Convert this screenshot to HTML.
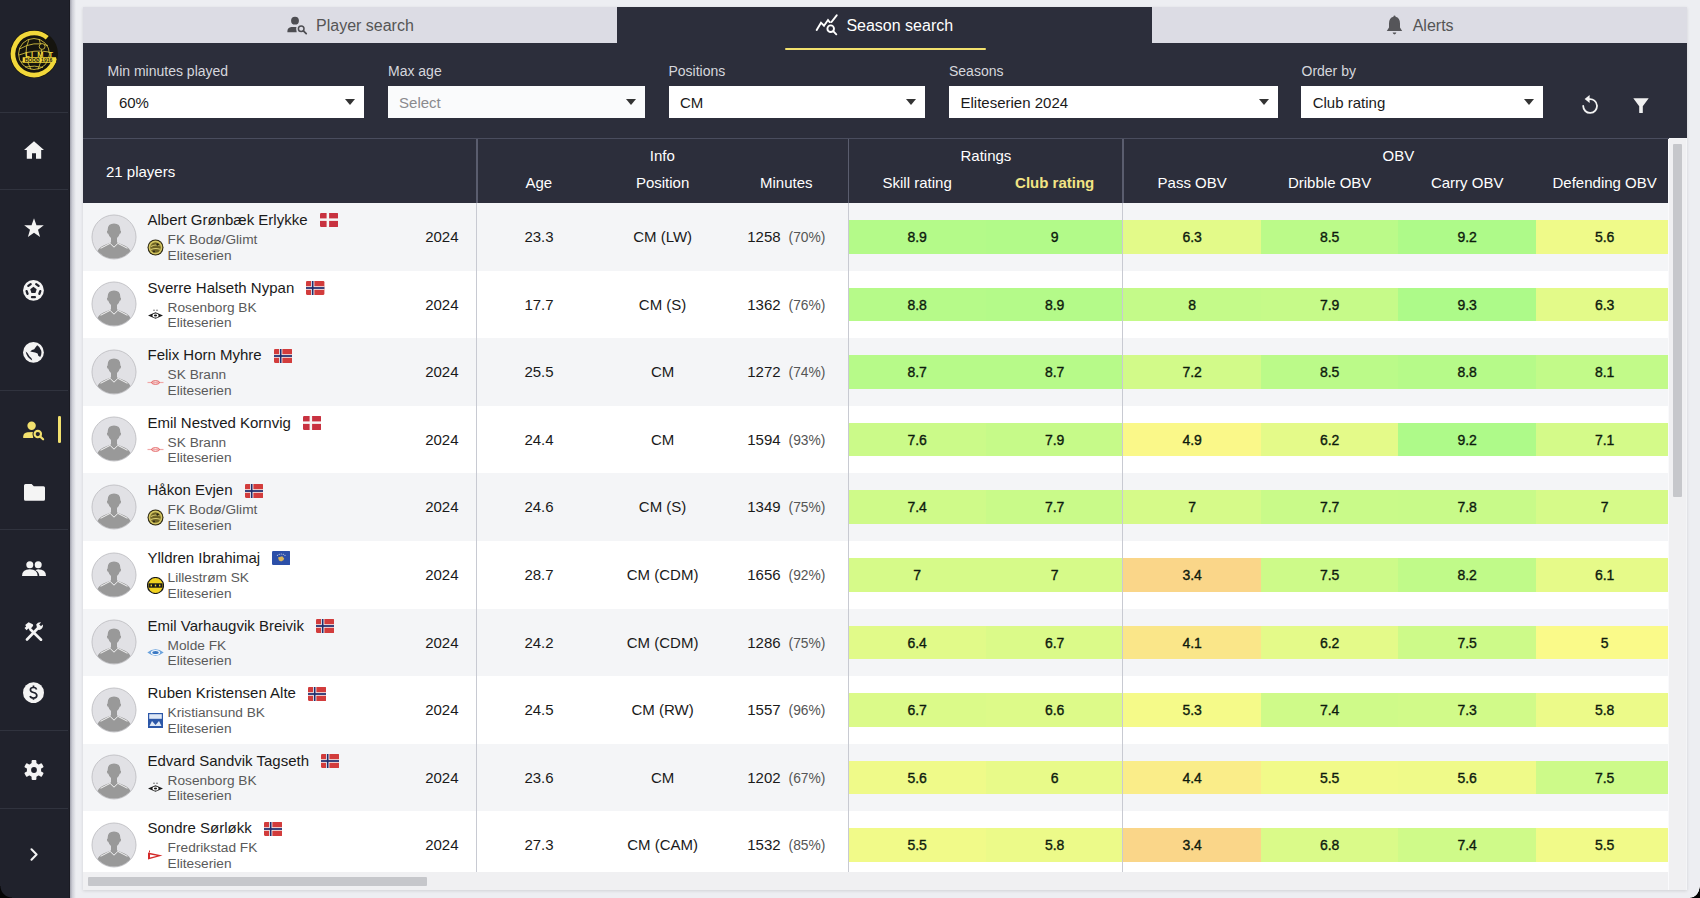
<!DOCTYPE html>
<html><head><meta charset="utf-8">
<style>
*{box-sizing:border-box;margin:0;padding:0}
html,body{width:1700px;height:898px;overflow:hidden}
body{background:#edeef2;font-family:"Liberation Sans",Arial,sans-serif;position:relative;color:#1a1a1a}
.abs{position:absolute}
#sb{left:0;top:0;width:70px;height:898px;background:#20222c;border-right:1.5px solid #1a1b23}
#sbshadow{left:69.5px;top:0;width:6px;height:898px;background:linear-gradient(90deg,#a2a3ae,#cfd0d8 40%,#edeef2)}
.sbl{position:absolute;left:0;width:68px;height:1.2px;background:#30333e}
.ic{position:absolute}
#panel{left:83px;top:7px;width:1603.5px;height:882.5px;background:#f4f5f7;box-shadow:0 1px 3px rgba(0,0,0,0.12)}
.tab{position:absolute;top:7px;height:36px;background:#dcdce4;color:#555;font-size:16px;line-height:36px;white-space:nowrap}
.tab.act{background:#2c2e3b;color:#fff}
.tab span{position:absolute;top:1px}
.tab svg{position:absolute}
#fbar{left:83px;top:43px;width:1604px;height:95px;background:#2c2e3b}
.flab{position:absolute;top:63px;font-size:14px;color:#d6d7dd;line-height:16px;white-space:nowrap}
.sel{position:absolute;top:86.4px;height:31.6px;background:#fff;font-size:15px;line-height:33px;padding-left:11.5px;color:#1a1a1a;white-space:nowrap}
.sel .ar{position:absolute;right:9px;top:13px;width:0;height:0;border-left:5px solid transparent;border-right:5px solid transparent;border-top:6px solid #333}
#thead{left:83px;top:138px;width:1586px;height:65px;background:#2c2e3b;border-top:1px solid #4a4d5e}
.th{position:absolute;color:#fff;font-size:15px;white-space:nowrap;text-align:center;line-height:18px}
.hvl{position:absolute;top:0;width:1.5px;height:64px;background:#5a5d6e}
#tbody{left:83px;top:203px;width:1585.4px;height:669px;overflow:hidden;background:#fff}
.row{position:absolute;left:0;width:1585.4px;height:67.6px}
.av{position:absolute;left:7.8px;top:10.6px}
.nm{position:absolute;left:64.5px;top:8px;font-size:15px;line-height:18px;white-space:nowrap;color:#1a1a1a}
.flag{display:inline-block;vertical-align:top;margin-left:12px;margin-top:2.4px}
.lg{position:absolute;left:63.7px;top:35.5px;width:17px;height:17px}
.lg svg{display:block}
.cl{position:absolute;left:84.6px;top:29px;font-size:13.7px;line-height:15.6px;color:#5a5a5a;white-space:nowrap}
.yr{position:absolute;left:300px;width:75.5px;top:0;height:67.6px;line-height:67.6px;text-align:right;font-size:15px}
.c{position:absolute;top:0;height:67.6px;line-height:67.6px;text-align:center;font-size:15px;white-space:nowrap}
.pc{font-size:13.8px;color:#555;margin-left:8px}
.v{position:absolute;top:17px;height:33.5px;width:137.5px;line-height:35px;text-align:center;font-size:14px;color:#0d1a0d;-webkit-text-stroke:0.35px #0d1a0d}
.bvl{position:absolute;top:203px;width:1.3px;height:669px;background:#c8cad2}
#hs{left:83px;top:871.6px;width:1585.4px;height:18px;background:#f0f0f2}
#hst{left:88px;top:876.7px;width:338.5px;height:8.9px;background:#c6c7cb;border-radius:1px}
#vs{left:1668px;top:138.5px;width:18px;height:751px;background:#f0f0f2;border-left:1.5px solid #fafafc}
#vst{left:1673px;top:143.6px;width:9px;height:353.2px;background:#c6c7cb;border-radius:1px}
</style></head><body>
<div id="sb" class="abs"></div>
<div id="sbshadow" class="abs"></div>
<div class="sbl" style="top:112px"></div>
<div class="sbl" style="top:189px"></div>
<div class="sbl" style="top:390px"></div>
<div class="sbl" style="top:529px"></div>
<div class="sbl" style="top:730px"></div>
<div class="sbl" style="top:808px"></div>
<svg class="ic" style="left:10px;top:30.3px" width="48" height="48" viewBox="0 0 48 48">
<circle cx="24" cy="24" r="24" fill="#15140e"/>
<path d="M37.22 7.68 A21 21 0 1 0 44.54 28.37" fill="none" stroke="#f2d83a" stroke-width="4.6"/>
<g fill="none" stroke="#e6cf45" stroke-width="0.8"><circle cx="24" cy="24" r="15.5"/><path d="M9.5 19 Q24 10.5 38 15.5"/><path d="M9 25 Q24 19 39 22"/><path d="M11 32 Q24 28.5 37 30.5"/><path d="M15 37 Q25 35 33 37.5"/><path d="M19 9.5 Q12 24 21 39.5"/><path d="M29 9 Q35 24 28 39.5"/></g>
<circle cx="32.1" cy="16.5" r="2.9" fill="#15140e" stroke="#e6cf45" stroke-width="0.8"/>
<g font-family="Liberation Sans,sans-serif" font-weight="bold" font-size="7.4" fill="#f2d83a"><text x="15.2" y="26.6">L</text><text x="21" y="26.6">I</text><text x="27.2" y="26.6">M</text><text x="38.6" y="26.6">T</text></g>
<rect x="12.7" y="27.2" width="33.4" height="5.6" fill="#f2d83a"/>
<text x="28.5" y="31.9" font-size="5" font-family="Liberation Sans,sans-serif" fill="#15140e" text-anchor="middle" font-weight="bold">BODØ 1916</text>
</svg>
<svg class="ic" style="left:23.6px;top:141.4px" width="20" height="18" viewBox="0 0 20 18"><path d="M10 0.3 L0 9 L2.8 9 L2.8 17.8 L8 17.8 L8 12.3 L12 12.3 L12 17.8 L17.2 17.8 L17.2 9 L20 9 Z" fill="#f4f4f4"/></svg>
<svg class="ic" style="left:23.6px;top:218.3px" width="20" height="19.5" viewBox="0 0 20 19"><path d="M10 0 L12.45 6.9 L19.8 7.1 L14 11.6 L16.1 18.8 L10 14.6 L3.9 18.8 L6 11.6 L0.2 7.1 L7.55 6.9 Z" fill="#f4f4f4"/></svg>
<svg class="ic" style="left:23.3px;top:279.9px" width="21" height="21" viewBox="0 0 21 21"><circle cx="10.45" cy="10.45" r="10.4" fill="#f4f4f4"/><g fill="#20222c"><polygon points="10.45,6.80 13.68,9.15 12.45,12.95 8.45,12.95 7.22,9.15"/><rect x="7.85" y="16.00" width="5.2" height="2.3" rx="1.1" transform="rotate(180 10.45 17.15)"/><rect x="1.48" y="11.37" width="5.2" height="2.3" rx="1.1" transform="rotate(252 4.08 12.52)"/><rect x="3.91" y="3.88" width="5.2" height="2.3" rx="1.1" transform="rotate(324 6.51 5.03)"/><rect x="11.79" y="3.88" width="5.2" height="2.3" rx="1.1" transform="rotate(396 14.39 5.03)"/><rect x="14.22" y="11.37" width="5.2" height="2.3" rx="1.1" transform="rotate(468 16.82 12.52)"/></g></svg>
<svg class="ic" style="left:23.3px;top:342.3px" width="21" height="21" viewBox="0 0 21 21"><circle cx="10.45" cy="10.45" r="10.4" fill="#f4f4f4"/><path d="M14.2 3.3 A8.3 8.3 0 0 1 17.2 14.9 L15.3 13.8 L14.6 11.6 L12.1 10.4 L9.6 10.1 L7.2 9.4 L9 7.9 L11.2 7.3 L12.4 5.4 Z" fill="#20222c"/><path d="M2.7 9.6 Q3.5 15.3 9.2 18.4 L8.5 16.2 L6.6 14.5 L4.4 10.9 Z" fill="#20222c"/></svg>
<svg class="ic" style="left:22px;top:421px" width="23" height="20" viewBox="0 0 23 20"><circle cx="9.6" cy="4.7" r="4.2" fill="#f2e16e"/><path d="M1.2 17 L1.2 15.6 Q1.5 11.7 5.5 11.3 L11.2 11.1 L11.2 17 Z" fill="#f2e16e"/><circle cx="15.8" cy="13.1" r="5.3" fill="#20222c"/><circle cx="15.8" cy="13.1" r="3.2" fill="none" stroke="#f2e16e" stroke-width="2.1"/><path d="M18.3 15.6 L21.1 18.3" stroke="#f2e16e" stroke-width="2.2" stroke-linecap="round"/></svg>
<div class="abs" style="left:58.3px;top:416px;width:2.7px;height:27.4px;background:#f2e16e;border-radius:1.3px"></div>
<svg class="ic" style="left:23.5px;top:483.5px" width="21" height="17" viewBox="0 0 21 17"><path d="M1.5 0 L7.6 0 L9.8 2.3 L19.5 2.3 Q21 2.3 21 3.8 L21 15.3 Q21 16.8 19.5 16.8 L1.5 16.8 Q0 16.8 0 15.3 L0 1.5 Q0 0 1.5 0 Z" fill="#f4f4f4"/></svg>
<svg class="ic" style="left:22px;top:561px" width="24" height="15" viewBox="0 0 24 15"><circle cx="7.8" cy="3.7" r="3.5" fill="#f4f4f4"/><circle cx="16.2" cy="3.7" r="3.5" fill="#f4f4f4"/><path d="M0 15 Q0 8.3 7.8 8.3 Q15.6 8.3 15.6 15 Z" fill="#f4f4f4"/><path d="M13.5 9.2 Q15 8.3 16.2 8.3 Q24 8.3 24 15 L17.3 15 Q17.3 11.2 13.5 9.2 Z" fill="#f4f4f4"/></svg>
<svg class="ic" style="left:23.8px;top:622px" width="20" height="19" viewBox="0 0 20 19"><path d="M3 17.5 L15.5 4.5" stroke="#f4f4f4" stroke-width="2.6" stroke-linecap="round"/><path d="M12.2 2.5 Q14 0 17 0.4 L15.2 2.6 L16.6 4.4 L18.8 2.6 Q19.6 5.8 16.6 7.6 Q15 8.3 13.5 7.5 Z" fill="#f4f4f4"/><path d="M6.5 7.5 L17 17.8" stroke="#f4f4f4" stroke-width="2.6" stroke-linecap="round"/><path d="M1.2 3 L4.5 0.2 L8.8 2.2 L9.2 3.8 L6 7.5 L4.3 6.6 L2.6 8.2 L0.5 6.1 L2.2 4.4 Z" fill="#f4f4f4"/></svg>
<svg class="ic" style="left:23.3px;top:682.1px" width="21" height="21.4" viewBox="0 0 21 21"><circle cx="10.5" cy="10.5" r="10.5" fill="#f4f4f4"/><path d="M13.6 7.2 Q13 5.3 10.5 5.3 Q7.4 5.3 7.4 7.6 Q7.4 9.6 10.5 10.3 Q13.8 11 13.8 13.3 Q13.8 15.8 10.5 15.8 Q7.7 15.8 7.1 13.7" fill="none" stroke="#1f212d" stroke-width="1.7"/><path d="M10.5 3.4 V5.4 M10.5 15.7 V17.6" stroke="#1f212d" stroke-width="1.7"/></svg>
<svg class="ic" style="left:23.6px;top:760px" width="20" height="20" viewBox="0 0 20 20"><g fill="#f4f4f4" transform="translate(10 10)"><circle r="7.2"/><rect x="-2.4" y="-10" width="4.8" height="5" rx="1"/><rect x="-2.4" y="-10" width="4.8" height="5" rx="1" transform="rotate(60)"/><rect x="-2.4" y="-10" width="4.8" height="5" rx="1" transform="rotate(120)"/><rect x="-2.4" y="-10" width="4.8" height="5" rx="1" transform="rotate(180)"/><rect x="-2.4" y="-10" width="4.8" height="5" rx="1" transform="rotate(240)"/><rect x="-2.4" y="-10" width="4.8" height="5" rx="1" transform="rotate(300)"/></g><circle cx="10" cy="10" r="2.9" fill="#20222c"/></svg>
<svg class="ic" style="left:29.5px;top:848.4px" width="9" height="13" viewBox="0 0 9 13"><path d="M1.5 1.3 L6.6 6.5 L1.5 11.7" fill="none" stroke="#f4f4f4" stroke-width="2" stroke-linecap="round" stroke-linejoin="round"/></svg>

<div id="panel" class="abs"></div>
<div class="tab" style="left:83px;width:534px"><svg style="left:203px;top:8px" width="22" height="20" viewBox="0 0 22 20"><circle cx="9" cy="5.7" r="3.9" fill="#4d4d52"/><path d="M1.4 17.2 L1.4 16 Q1.7 12.5 5.3 12.1 L10.6 11.9 L10.6 17.2 Z" fill="#4d4d52"/><circle cx="15.2" cy="13.7" r="4.9" fill="#dcdce4"/><circle cx="15.2" cy="13.7" r="2.8" fill="none" stroke="#4d4d52" stroke-width="1.5"/><path d="M17.4 15.9 L20.2 18.6" stroke="#4d4d52" stroke-width="1.8" stroke-linecap="round"/></svg><span style="left:233px">Player search</span></div>
<div class="tab act" style="left:617px;width:535px"><svg style="left:197px;top:6px" width="24" height="24" viewBox="0 0 24 24"><path d="M2.7 17 L7 9.7 L10 12.7 L14 7 L16.5 10.3 L22.7 2.3" fill="none" stroke="#fff" stroke-width="1.9" stroke-linecap="round" stroke-linejoin="miter"/><circle cx="16.7" cy="15.7" r="6" fill="#2c2e3b"/><circle cx="16.7" cy="15.7" r="3.3" fill="none" stroke="#fff" stroke-width="1.9"/><path d="M19.2 18.2 L22.3 21.3" stroke="#fff" stroke-width="1.9" stroke-linecap="round"/></svg><span style="left:229.4px">Season search</span></div>
<div class="tab" style="left:1152px;width:535px"><svg style="left:233.5px;top:8.3px" width="17" height="20" viewBox="0 0 17 20"><path d="M8.5 0.5 Q9.5 0.5 9.6 1.8 Q14 2.8 14 8.5 L14 12.5 L16.2 16 L0.8 16 L3 12.5 L3 8.5 Q3 2.8 7.4 1.8 Q7.5 0.5 8.5 0.5 Z" fill="#555559"/><path d="M6.6 17.6 L10.4 17.6 Q10 19.4 8.5 19.4 Q7 19.4 6.6 17.6 Z" fill="#555559"/></svg><span style="left:260.7px">Alerts</span></div>
<div id="fbar" class="abs"></div>
<div class="abs" style="left:785px;top:47.7px;width:200.5px;height:2.6px;background:#f2e16e;border-radius:1.3px"></div>
<svg class="ic" style="left:1580px;top:94px" width="18" height="20" viewBox="0 0 18 20"><path d="M3.2 12 A6.9 6.9 0 1 0 9.2 5.2 L8.5 5.2" fill="none" stroke="#f4f4f4" stroke-width="1.8" stroke-linecap="round"/><path d="M4.6 5 L9.6 1 L9.6 9 Z" fill="#f4f4f4"/></svg>
<svg class="ic" style="left:1632.7px;top:97.5px" width="16" height="15.5" viewBox="0 0 16 15.5"><path d="M0.3 0.3 L15.7 0.3 L9.8 8.2 L9.8 14.6 Q9.8 15.3 9 15.3 L7 15.3 Q6.2 15.3 6.2 14.6 L6.2 8.2 Z" fill="#f0f0f0"/></svg>
<div class="flab" style="left:107.5px">Min minutes played</div>
<div class="flab" style="left:388px">Max age</div>
<div class="flab" style="left:668.5px">Positions</div>
<div class="flab" style="left:949px">Seasons</div>
<div class="flab" style="left:1301.5px">Order by</div>
<div class="sel" style="left:107.4px;width:256.6px">60%<div class="ar"></div></div>
<div class="sel" style="left:387.6px;width:257.2px;color:#8a8a8e;background:#fafbfc">Select<div class="ar"></div></div>
<div class="sel" style="left:668.5px;width:256.6px">CM<div class="ar"></div></div>
<div class="sel" style="left:949px;width:328.7px">Eliteserien 2024<div class="ar"></div></div>
<div class="sel" style="left:1301.2px;width:241.4px">Club rating<div class="ar"></div></div>
<div id="thead" class="abs">
<div class="hvl" style="left:393px"></div>
<div class="hvl" style="left:764.6px"></div>
<div class="hvl" style="left:1039.2px"></div>
<div class="th" style="left:23px;top:24px;text-align:left">21 players</div>
<div class="th" style="left:393.8px;width:371px;top:8px">Info</div>
<div class="th" style="left:765.4px;width:275px;top:8px">Ratings</div>
<div class="th" style="left:1040.4px;width:550px;top:8px">OBV</div>
<div class="th" style="left:393.8px;width:124px;top:35px">Age</div>
<div class="th" style="left:517.6px;width:124px;top:35px">Position</div>
<div class="th" style="left:641.3px;width:124px;top:35px">Minutes</div>
<div class="th" style="left:765.4px;width:137.5px;top:35px">Skill rating</div>
<div class="th" style="left:902.9px;width:137.5px;top:35px;color:#f2e484;font-weight:bold">Club rating</div>
<div class="th" style="left:1040.4px;width:137.5px;top:35px">Pass OBV</div>
<div class="th" style="left:1177.9px;width:137.5px;top:35px">Dribble OBV</div>
<div class="th" style="left:1315.4px;width:137.5px;top:35px">Carry OBV</div>
<div class="th" style="left:1452.9px;width:137.5px;top:35px">Defending OBV</div>
</div>
<div id="tbody" class="abs">
<div class="row" style="top:0.0px;background:#f4f5f7">
<svg class="av" width="46" height="46" viewBox="0 0 46 46"><defs><clipPath id="cc0"><circle cx="23" cy="23" r="21.6"/></clipPath></defs><circle cx="23" cy="23" r="22" fill="#e1e1e5" stroke="#c4c4c8" stroke-width="1"/><g clip-path="url(#cc0)" fill="#999999"><path d="M23 9.4 Q29.3 9.4 29.3 15.5 L29.3 16.5 Q30.3 16.7 30 18.2 Q29.6 19.8 28.7 19.8 Q27.9 22.8 26 24 L26 32.5 L20 32.5 L20 24 Q18.1 22.8 17.3 19.8 Q16.4 19.8 16 18.2 Q15.7 16.7 16.7 16.5 L16.7 15.5 Q16.7 9.4 23 9.4 Z"/><path d="M5.5 46 L6.5 37 Q8.8 32.5 15.5 30.3 L19.8 28.6 L23 32.3 L26.2 28.6 L30.5 30.3 Q37.2 32.5 39.5 37 L40.5 46 Z"/><path d="M9.6 34.3 L19.1 29.4 L23 33.2 L26.9 29.4 L36.4 34.3" fill="none" stroke="#f2f2f2" stroke-width="1"/></g></svg>
<div class="nm">Albert Grønbæk Erlykke<svg class="flag" width="18.4" height="14" viewBox="0 0 18.4 14"><rect width="18.4" height="14" rx="1.2" fill="#c83240"/><rect x="6.6" width="2.5" height="14" fill="#f6f6f6"/><rect y="5.4" width="18.4" height="2.5" fill="#f6f6f6"/></svg></div>
<div class="lg"><svg width="17" height="17" viewBox="0 0 17 17"><circle cx="8.5" cy="8.5" r="8" fill="#2b2612"/><circle cx="8.5" cy="8.5" r="6.9" fill="#d2c460"/><circle cx="8.5" cy="8.5" r="5.2" fill="#6e6224"/><path d="M4 7.5 Q8 5 12.5 6.8 M3.8 10.5 Q8.5 8.8 13 10.2" stroke="#d8cc70" stroke-width="1.1" fill="none"/><circle cx="10.6" cy="5.6" r="1.2" fill="#2b2612"/><circle cx="7" cy="12.4" r="1" fill="#2b2612"/></svg></div>
<div class="cl">FK Bodø/Glimt<br>Eliteserien</div>
<div class="yr">2024</div>
<div class="c" style="left:394px;width:124px">23.3</div>
<div class="c" style="left:517.6px;width:124px">CM (LW)</div>
<div class="c" style="left:641.3px;width:124px">1258<span class="pc">(70%)</span></div>
<div class="v" style="left:765.4px;background:#b4fa89">8.9</div>
<div class="v" style="left:902.9px;background:#b2fa89">9</div>
<div class="v" style="left:1040.4px;background:#e3fa89">6.3</div>
<div class="v" style="left:1177.9px;background:#bbfa89">8.5</div>
<div class="v" style="left:1315.4px;background:#aefa89">9.2</div>
<div class="v" style="left:1452.9px;background:#effa89">5.6</div>
</div>
<div class="row" style="top:67.6px;background:#ffffff">
<svg class="av" width="46" height="46" viewBox="0 0 46 46"><defs><clipPath id="cc1"><circle cx="23" cy="23" r="21.6"/></clipPath></defs><circle cx="23" cy="23" r="22" fill="#e1e1e5" stroke="#c4c4c8" stroke-width="1"/><g clip-path="url(#cc1)" fill="#999999"><path d="M23 9.4 Q29.3 9.4 29.3 15.5 L29.3 16.5 Q30.3 16.7 30 18.2 Q29.6 19.8 28.7 19.8 Q27.9 22.8 26 24 L26 32.5 L20 32.5 L20 24 Q18.1 22.8 17.3 19.8 Q16.4 19.8 16 18.2 Q15.7 16.7 16.7 16.5 L16.7 15.5 Q16.7 9.4 23 9.4 Z"/><path d="M5.5 46 L6.5 37 Q8.8 32.5 15.5 30.3 L19.8 28.6 L23 32.3 L26.2 28.6 L30.5 30.3 Q37.2 32.5 39.5 37 L40.5 46 Z"/><path d="M9.6 34.3 L19.1 29.4 L23 33.2 L26.9 29.4 L36.4 34.3" fill="none" stroke="#f2f2f2" stroke-width="1"/></g></svg>
<div class="nm">Sverre Halseth Nypan<svg class="flag" width="18.4" height="14" viewBox="0 0 22 16" preserveAspectRatio="none"><rect width="22" height="16" rx="1.3" fill="#d23c3c"/><rect x="6" width="4" height="16" fill="#f6f6f6"/><rect y="6" width="22" height="4" fill="#f6f6f6"/><rect x="7" width="2" height="16" fill="#202c6c"/><rect y="7" width="22" height="2" fill="#202c6c"/></svg></div>
<div class="lg"><svg width="17" height="17" viewBox="0 0 17 17"><path d="M1 9.5 L8.5 6.3 L16 9.5 L8.5 12.7 Z" fill="#1a1a1a"/><ellipse cx="8.5" cy="9.5" rx="3" ry="2" fill="#fff"/><ellipse cx="8.5" cy="9.5" rx="1.6" ry="1.1" fill="#1a1a1a"/><circle cx="7" cy="4.2" r=".7" fill="#555"/><circle cx="10" cy="4.2" r=".7" fill="#555"/></svg></div>
<div class="cl">Rosenborg BK<br>Eliteserien</div>
<div class="yr">2024</div>
<div class="c" style="left:394px;width:124px">17.7</div>
<div class="c" style="left:517.6px;width:124px">CM (S)</div>
<div class="c" style="left:641.3px;width:124px">1362<span class="pc">(76%)</span></div>
<div class="v" style="left:765.4px;background:#b6fa89">8.8</div>
<div class="v" style="left:902.9px;background:#b4fa89">8.9</div>
<div class="v" style="left:1040.4px;background:#c4fa89">8</div>
<div class="v" style="left:1177.9px;background:#c6fa89">7.9</div>
<div class="v" style="left:1315.4px;background:#adfa89">9.3</div>
<div class="v" style="left:1452.9px;background:#e3fa89">6.3</div>
</div>
<div class="row" style="top:135.2px;background:#f4f5f7">
<svg class="av" width="46" height="46" viewBox="0 0 46 46"><defs><clipPath id="cc2"><circle cx="23" cy="23" r="21.6"/></clipPath></defs><circle cx="23" cy="23" r="22" fill="#e1e1e5" stroke="#c4c4c8" stroke-width="1"/><g clip-path="url(#cc2)" fill="#999999"><path d="M23 9.4 Q29.3 9.4 29.3 15.5 L29.3 16.5 Q30.3 16.7 30 18.2 Q29.6 19.8 28.7 19.8 Q27.9 22.8 26 24 L26 32.5 L20 32.5 L20 24 Q18.1 22.8 17.3 19.8 Q16.4 19.8 16 18.2 Q15.7 16.7 16.7 16.5 L16.7 15.5 Q16.7 9.4 23 9.4 Z"/><path d="M5.5 46 L6.5 37 Q8.8 32.5 15.5 30.3 L19.8 28.6 L23 32.3 L26.2 28.6 L30.5 30.3 Q37.2 32.5 39.5 37 L40.5 46 Z"/><path d="M9.6 34.3 L19.1 29.4 L23 33.2 L26.9 29.4 L36.4 34.3" fill="none" stroke="#f2f2f2" stroke-width="1"/></g></svg>
<div class="nm">Felix Horn Myhre<svg class="flag" width="18.4" height="14" viewBox="0 0 22 16" preserveAspectRatio="none"><rect width="22" height="16" rx="1.3" fill="#d23c3c"/><rect x="6" width="4" height="16" fill="#f6f6f6"/><rect y="6" width="22" height="4" fill="#f6f6f6"/><rect x="7" width="2" height="16" fill="#202c6c"/><rect y="7" width="22" height="2" fill="#202c6c"/></svg></div>
<div class="lg"><svg width="17" height="17" viewBox="0 0 17 17"><path d="M0.5 8.5 H16.5" stroke="#f1a8a8" stroke-width="1.2"/><ellipse cx="8.5" cy="8.5" rx="4" ry="1.8" fill="none" stroke="#e35a5a" stroke-width="1"/></svg></div>
<div class="cl">SK Brann<br>Eliteserien</div>
<div class="yr">2024</div>
<div class="c" style="left:394px;width:124px">25.5</div>
<div class="c" style="left:517.6px;width:124px">CM</div>
<div class="c" style="left:641.3px;width:124px">1272<span class="pc">(74%)</span></div>
<div class="v" style="left:765.4px;background:#b7fa89">8.7</div>
<div class="v" style="left:902.9px;background:#b7fa89">8.7</div>
<div class="v" style="left:1040.4px;background:#d2fa89">7.2</div>
<div class="v" style="left:1177.9px;background:#bbfa89">8.5</div>
<div class="v" style="left:1315.4px;background:#b6fa89">8.8</div>
<div class="v" style="left:1452.9px;background:#c2fa89">8.1</div>
</div>
<div class="row" style="top:202.8px;background:#ffffff">
<svg class="av" width="46" height="46" viewBox="0 0 46 46"><defs><clipPath id="cc3"><circle cx="23" cy="23" r="21.6"/></clipPath></defs><circle cx="23" cy="23" r="22" fill="#e1e1e5" stroke="#c4c4c8" stroke-width="1"/><g clip-path="url(#cc3)" fill="#999999"><path d="M23 9.4 Q29.3 9.4 29.3 15.5 L29.3 16.5 Q30.3 16.7 30 18.2 Q29.6 19.8 28.7 19.8 Q27.9 22.8 26 24 L26 32.5 L20 32.5 L20 24 Q18.1 22.8 17.3 19.8 Q16.4 19.8 16 18.2 Q15.7 16.7 16.7 16.5 L16.7 15.5 Q16.7 9.4 23 9.4 Z"/><path d="M5.5 46 L6.5 37 Q8.8 32.5 15.5 30.3 L19.8 28.6 L23 32.3 L26.2 28.6 L30.5 30.3 Q37.2 32.5 39.5 37 L40.5 46 Z"/><path d="M9.6 34.3 L19.1 29.4 L23 33.2 L26.9 29.4 L36.4 34.3" fill="none" stroke="#f2f2f2" stroke-width="1"/></g></svg>
<div class="nm">Emil Nestved Kornvig<svg class="flag" width="18.4" height="14" viewBox="0 0 18.4 14"><rect width="18.4" height="14" rx="1.2" fill="#c83240"/><rect x="6.6" width="2.5" height="14" fill="#f6f6f6"/><rect y="5.4" width="18.4" height="2.5" fill="#f6f6f6"/></svg></div>
<div class="lg"><svg width="17" height="17" viewBox="0 0 17 17"><path d="M0.5 8.5 H16.5" stroke="#f1a8a8" stroke-width="1.2"/><ellipse cx="8.5" cy="8.5" rx="4" ry="1.8" fill="none" stroke="#e35a5a" stroke-width="1"/></svg></div>
<div class="cl">SK Brann<br>Eliteserien</div>
<div class="yr">2024</div>
<div class="c" style="left:394px;width:124px">24.4</div>
<div class="c" style="left:517.6px;width:124px">CM</div>
<div class="c" style="left:641.3px;width:124px">1594<span class="pc">(93%)</span></div>
<div class="v" style="left:765.4px;background:#cbfa89">7.6</div>
<div class="v" style="left:902.9px;background:#c6fa89">7.9</div>
<div class="v" style="left:1040.4px;background:#faf889">4.9</div>
<div class="v" style="left:1177.9px;background:#e4fa89">6.2</div>
<div class="v" style="left:1315.4px;background:#aefa89">9.2</div>
<div class="v" style="left:1452.9px;background:#d4fa89">7.1</div>
</div>
<div class="row" style="top:270.4px;background:#f4f5f7">
<svg class="av" width="46" height="46" viewBox="0 0 46 46"><defs><clipPath id="cc4"><circle cx="23" cy="23" r="21.6"/></clipPath></defs><circle cx="23" cy="23" r="22" fill="#e1e1e5" stroke="#c4c4c8" stroke-width="1"/><g clip-path="url(#cc4)" fill="#999999"><path d="M23 9.4 Q29.3 9.4 29.3 15.5 L29.3 16.5 Q30.3 16.7 30 18.2 Q29.6 19.8 28.7 19.8 Q27.9 22.8 26 24 L26 32.5 L20 32.5 L20 24 Q18.1 22.8 17.3 19.8 Q16.4 19.8 16 18.2 Q15.7 16.7 16.7 16.5 L16.7 15.5 Q16.7 9.4 23 9.4 Z"/><path d="M5.5 46 L6.5 37 Q8.8 32.5 15.5 30.3 L19.8 28.6 L23 32.3 L26.2 28.6 L30.5 30.3 Q37.2 32.5 39.5 37 L40.5 46 Z"/><path d="M9.6 34.3 L19.1 29.4 L23 33.2 L26.9 29.4 L36.4 34.3" fill="none" stroke="#f2f2f2" stroke-width="1"/></g></svg>
<div class="nm">Håkon Evjen<svg class="flag" width="18.4" height="14" viewBox="0 0 22 16" preserveAspectRatio="none"><rect width="22" height="16" rx="1.3" fill="#d23c3c"/><rect x="6" width="4" height="16" fill="#f6f6f6"/><rect y="6" width="22" height="4" fill="#f6f6f6"/><rect x="7" width="2" height="16" fill="#202c6c"/><rect y="7" width="22" height="2" fill="#202c6c"/></svg></div>
<div class="lg"><svg width="17" height="17" viewBox="0 0 17 17"><circle cx="8.5" cy="8.5" r="8" fill="#2b2612"/><circle cx="8.5" cy="8.5" r="6.9" fill="#d2c460"/><circle cx="8.5" cy="8.5" r="5.2" fill="#6e6224"/><path d="M4 7.5 Q8 5 12.5 6.8 M3.8 10.5 Q8.5 8.8 13 10.2" stroke="#d8cc70" stroke-width="1.1" fill="none"/><circle cx="10.6" cy="5.6" r="1.2" fill="#2b2612"/><circle cx="7" cy="12.4" r="1" fill="#2b2612"/></svg></div>
<div class="cl">FK Bodø/Glimt<br>Eliteserien</div>
<div class="yr">2024</div>
<div class="c" style="left:394px;width:124px">24.6</div>
<div class="c" style="left:517.6px;width:124px">CM (S)</div>
<div class="c" style="left:641.3px;width:124px">1349<span class="pc">(75%)</span></div>
<div class="v" style="left:765.4px;background:#cffa89">7.4</div>
<div class="v" style="left:902.9px;background:#c9fa89">7.7</div>
<div class="v" style="left:1040.4px;background:#d6fa89">7</div>
<div class="v" style="left:1177.9px;background:#c9fa89">7.7</div>
<div class="v" style="left:1315.4px;background:#c8fa89">7.8</div>
<div class="v" style="left:1452.9px;background:#d6fa89">7</div>
</div>
<div class="row" style="top:338.0px;background:#ffffff">
<svg class="av" width="46" height="46" viewBox="0 0 46 46"><defs><clipPath id="cc5"><circle cx="23" cy="23" r="21.6"/></clipPath></defs><circle cx="23" cy="23" r="22" fill="#e1e1e5" stroke="#c4c4c8" stroke-width="1"/><g clip-path="url(#cc5)" fill="#999999"><path d="M23 9.4 Q29.3 9.4 29.3 15.5 L29.3 16.5 Q30.3 16.7 30 18.2 Q29.6 19.8 28.7 19.8 Q27.9 22.8 26 24 L26 32.5 L20 32.5 L20 24 Q18.1 22.8 17.3 19.8 Q16.4 19.8 16 18.2 Q15.7 16.7 16.7 16.5 L16.7 15.5 Q16.7 9.4 23 9.4 Z"/><path d="M5.5 46 L6.5 37 Q8.8 32.5 15.5 30.3 L19.8 28.6 L23 32.3 L26.2 28.6 L30.5 30.3 Q37.2 32.5 39.5 37 L40.5 46 Z"/><path d="M9.6 34.3 L19.1 29.4 L23 33.2 L26.9 29.4 L36.4 34.3" fill="none" stroke="#f2f2f2" stroke-width="1"/></g></svg>
<div class="nm">Ylldren Ibrahimaj<svg class="flag" width="18.4" height="14" viewBox="0 0 19 14" preserveAspectRatio="none"><rect width="19" height="14" rx="1.2" fill="#2c4fa8"/><path d="M6.2 6.4 L10.6 5.2 L12.6 7.6 L11.8 9.2 L9.4 10.6 L7.2 9.4 Z" fill="#d8b45a"/><g fill="#eeeef4"><circle cx="5.6" cy="4.2" r=".55"/><circle cx="7.4" cy="3.3" r=".55"/><circle cx="9.5" cy="3" r=".55"/><circle cx="11.6" cy="3.3" r=".55"/><circle cx="13.4" cy="4.2" r=".55"/></g></svg></div>
<div class="lg"><svg width="17" height="17" viewBox="0 0 17 17"><circle cx="8.5" cy="8.5" r="8" fill="#f1d21e" stroke="#1a1a1a" stroke-width="1.2"/><rect x="1.5" y="6.3" width="14" height="4.4" fill="#1a1a1a"/><g fill="#f1d21e"><rect x="3.6" y="7.6" width="1.4" height="1.8"/><rect x="7.8" y="7.6" width="1.4" height="1.8"/><rect x="12" y="7.6" width="1.4" height="1.8"/></g></svg></div>
<div class="cl">Lillestrøm SK<br>Eliteserien</div>
<div class="yr">2024</div>
<div class="c" style="left:394px;width:124px">28.7</div>
<div class="c" style="left:517.6px;width:124px">CM (CDM)</div>
<div class="c" style="left:641.3px;width:124px">1656<span class="pc">(92%)</span></div>
<div class="v" style="left:765.4px;background:#d6fa89">7</div>
<div class="v" style="left:902.9px;background:#d6fa89">7</div>
<div class="v" style="left:1040.4px;background:#fad689">3.4</div>
<div class="v" style="left:1177.9px;background:#cdfa89">7.5</div>
<div class="v" style="left:1315.4px;background:#c0fa89">8.2</div>
<div class="v" style="left:1452.9px;background:#e6fa89">6.1</div>
</div>
<div class="row" style="top:405.6px;background:#f4f5f7">
<svg class="av" width="46" height="46" viewBox="0 0 46 46"><defs><clipPath id="cc6"><circle cx="23" cy="23" r="21.6"/></clipPath></defs><circle cx="23" cy="23" r="22" fill="#e1e1e5" stroke="#c4c4c8" stroke-width="1"/><g clip-path="url(#cc6)" fill="#999999"><path d="M23 9.4 Q29.3 9.4 29.3 15.5 L29.3 16.5 Q30.3 16.7 30 18.2 Q29.6 19.8 28.7 19.8 Q27.9 22.8 26 24 L26 32.5 L20 32.5 L20 24 Q18.1 22.8 17.3 19.8 Q16.4 19.8 16 18.2 Q15.7 16.7 16.7 16.5 L16.7 15.5 Q16.7 9.4 23 9.4 Z"/><path d="M5.5 46 L6.5 37 Q8.8 32.5 15.5 30.3 L19.8 28.6 L23 32.3 L26.2 28.6 L30.5 30.3 Q37.2 32.5 39.5 37 L40.5 46 Z"/><path d="M9.6 34.3 L19.1 29.4 L23 33.2 L26.9 29.4 L36.4 34.3" fill="none" stroke="#f2f2f2" stroke-width="1"/></g></svg>
<div class="nm">Emil Varhaugvik Breivik<svg class="flag" width="18.4" height="14" viewBox="0 0 22 16" preserveAspectRatio="none"><rect width="22" height="16" rx="1.3" fill="#d23c3c"/><rect x="6" width="4" height="16" fill="#f6f6f6"/><rect y="6" width="22" height="4" fill="#f6f6f6"/><rect x="7" width="2" height="16" fill="#202c6c"/><rect y="7" width="22" height="2" fill="#202c6c"/></svg></div>
<div class="lg"><svg width="17" height="17" viewBox="0 0 17 17"><path d="M0.3 8.5 Q8.5 2.2 16.7 8.5 Q8.5 14.8 0.3 8.5 Z" fill="#6aa2dd"/><ellipse cx="8.5" cy="8.5" rx="4.6" ry="2.6" fill="#f4f8fc"/><ellipse cx="8.5" cy="8.5" rx="3.2" ry="1.6" fill="#3a78c2"/></svg></div>
<div class="cl">Molde FK<br>Eliteserien</div>
<div class="yr">2024</div>
<div class="c" style="left:394px;width:124px">24.2</div>
<div class="c" style="left:517.6px;width:124px">CM (CDM)</div>
<div class="c" style="left:641.3px;width:124px">1286<span class="pc">(75%)</span></div>
<div class="v" style="left:765.4px;background:#e1fa89">6.4</div>
<div class="v" style="left:902.9px;background:#dbfa89">6.7</div>
<div class="v" style="left:1040.4px;background:#fae689">4.1</div>
<div class="v" style="left:1177.9px;background:#e4fa89">6.2</div>
<div class="v" style="left:1315.4px;background:#cdfa89">7.5</div>
<div class="v" style="left:1452.9px;background:#fafa89">5</div>
</div>
<div class="row" style="top:473.2px;background:#ffffff">
<svg class="av" width="46" height="46" viewBox="0 0 46 46"><defs><clipPath id="cc7"><circle cx="23" cy="23" r="21.6"/></clipPath></defs><circle cx="23" cy="23" r="22" fill="#e1e1e5" stroke="#c4c4c8" stroke-width="1"/><g clip-path="url(#cc7)" fill="#999999"><path d="M23 9.4 Q29.3 9.4 29.3 15.5 L29.3 16.5 Q30.3 16.7 30 18.2 Q29.6 19.8 28.7 19.8 Q27.9 22.8 26 24 L26 32.5 L20 32.5 L20 24 Q18.1 22.8 17.3 19.8 Q16.4 19.8 16 18.2 Q15.7 16.7 16.7 16.5 L16.7 15.5 Q16.7 9.4 23 9.4 Z"/><path d="M5.5 46 L6.5 37 Q8.8 32.5 15.5 30.3 L19.8 28.6 L23 32.3 L26.2 28.6 L30.5 30.3 Q37.2 32.5 39.5 37 L40.5 46 Z"/><path d="M9.6 34.3 L19.1 29.4 L23 33.2 L26.9 29.4 L36.4 34.3" fill="none" stroke="#f2f2f2" stroke-width="1"/></g></svg>
<div class="nm">Ruben Kristensen Alte<svg class="flag" width="18.4" height="14" viewBox="0 0 22 16" preserveAspectRatio="none"><rect width="22" height="16" rx="1.3" fill="#d23c3c"/><rect x="6" width="4" height="16" fill="#f6f6f6"/><rect y="6" width="22" height="4" fill="#f6f6f6"/><rect x="7" width="2" height="16" fill="#202c6c"/><rect y="7" width="22" height="2" fill="#202c6c"/></svg></div>
<div class="lg"><svg width="17" height="17" viewBox="0 0 17 17"><rect x="1" y="1" width="15" height="15" fill="#2c57a8"/><rect x="2.2" y="2.2" width="12.6" height="4.6" fill="#dfe8f6"/><path d="M2.5 14 L5 9 L8.5 13 L12 9 L14.5 14 Z" fill="#dfe8f6"/></svg></div>
<div class="cl">Kristiansund BK<br>Eliteserien</div>
<div class="yr">2024</div>
<div class="c" style="left:394px;width:124px">24.5</div>
<div class="c" style="left:517.6px;width:124px">CM (RW)</div>
<div class="c" style="left:641.3px;width:124px">1557<span class="pc">(96%)</span></div>
<div class="v" style="left:765.4px;background:#dbfa89">6.7</div>
<div class="v" style="left:902.9px;background:#ddfa89">6.6</div>
<div class="v" style="left:1040.4px;background:#f5fa89">5.3</div>
<div class="v" style="left:1177.9px;background:#cffa89">7.4</div>
<div class="v" style="left:1315.4px;background:#d1fa89">7.3</div>
<div class="v" style="left:1452.9px;background:#ecfa89">5.8</div>
</div>
<div class="row" style="top:540.8px;background:#f4f5f7">
<svg class="av" width="46" height="46" viewBox="0 0 46 46"><defs><clipPath id="cc8"><circle cx="23" cy="23" r="21.6"/></clipPath></defs><circle cx="23" cy="23" r="22" fill="#e1e1e5" stroke="#c4c4c8" stroke-width="1"/><g clip-path="url(#cc8)" fill="#999999"><path d="M23 9.4 Q29.3 9.4 29.3 15.5 L29.3 16.5 Q30.3 16.7 30 18.2 Q29.6 19.8 28.7 19.8 Q27.9 22.8 26 24 L26 32.5 L20 32.5 L20 24 Q18.1 22.8 17.3 19.8 Q16.4 19.8 16 18.2 Q15.7 16.7 16.7 16.5 L16.7 15.5 Q16.7 9.4 23 9.4 Z"/><path d="M5.5 46 L6.5 37 Q8.8 32.5 15.5 30.3 L19.8 28.6 L23 32.3 L26.2 28.6 L30.5 30.3 Q37.2 32.5 39.5 37 L40.5 46 Z"/><path d="M9.6 34.3 L19.1 29.4 L23 33.2 L26.9 29.4 L36.4 34.3" fill="none" stroke="#f2f2f2" stroke-width="1"/></g></svg>
<div class="nm">Edvard Sandvik Tagseth<svg class="flag" width="18.4" height="14" viewBox="0 0 22 16" preserveAspectRatio="none"><rect width="22" height="16" rx="1.3" fill="#d23c3c"/><rect x="6" width="4" height="16" fill="#f6f6f6"/><rect y="6" width="22" height="4" fill="#f6f6f6"/><rect x="7" width="2" height="16" fill="#202c6c"/><rect y="7" width="22" height="2" fill="#202c6c"/></svg></div>
<div class="lg"><svg width="17" height="17" viewBox="0 0 17 17"><path d="M1 9.5 L8.5 6.3 L16 9.5 L8.5 12.7 Z" fill="#1a1a1a"/><ellipse cx="8.5" cy="9.5" rx="3" ry="2" fill="#fff"/><ellipse cx="8.5" cy="9.5" rx="1.6" ry="1.1" fill="#1a1a1a"/><circle cx="7" cy="4.2" r=".7" fill="#555"/><circle cx="10" cy="4.2" r=".7" fill="#555"/></svg></div>
<div class="cl">Rosenborg BK<br>Eliteserien</div>
<div class="yr">2024</div>
<div class="c" style="left:394px;width:124px">23.6</div>
<div class="c" style="left:517.6px;width:124px">CM</div>
<div class="c" style="left:641.3px;width:124px">1202<span class="pc">(67%)</span></div>
<div class="v" style="left:765.4px;background:#effa89">5.6</div>
<div class="v" style="left:902.9px;background:#e8fa89">6</div>
<div class="v" style="left:1040.4px;background:#faed89">4.4</div>
<div class="v" style="left:1177.9px;background:#f1fa89">5.5</div>
<div class="v" style="left:1315.4px;background:#effa89">5.6</div>
<div class="v" style="left:1452.9px;background:#cdfa89">7.5</div>
</div>
<div class="row" style="top:608.4px;background:#ffffff">
<svg class="av" width="46" height="46" viewBox="0 0 46 46"><defs><clipPath id="cc9"><circle cx="23" cy="23" r="21.6"/></clipPath></defs><circle cx="23" cy="23" r="22" fill="#e1e1e5" stroke="#c4c4c8" stroke-width="1"/><g clip-path="url(#cc9)" fill="#999999"><path d="M23 9.4 Q29.3 9.4 29.3 15.5 L29.3 16.5 Q30.3 16.7 30 18.2 Q29.6 19.8 28.7 19.8 Q27.9 22.8 26 24 L26 32.5 L20 32.5 L20 24 Q18.1 22.8 17.3 19.8 Q16.4 19.8 16 18.2 Q15.7 16.7 16.7 16.5 L16.7 15.5 Q16.7 9.4 23 9.4 Z"/><path d="M5.5 46 L6.5 37 Q8.8 32.5 15.5 30.3 L19.8 28.6 L23 32.3 L26.2 28.6 L30.5 30.3 Q37.2 32.5 39.5 37 L40.5 46 Z"/><path d="M9.6 34.3 L19.1 29.4 L23 33.2 L26.9 29.4 L36.4 34.3" fill="none" stroke="#f2f2f2" stroke-width="1"/></g></svg>
<div class="nm">Sondre Sørløkk<svg class="flag" width="18.4" height="14" viewBox="0 0 22 16" preserveAspectRatio="none"><rect width="22" height="16" rx="1.3" fill="#d23c3c"/><rect x="6" width="4" height="16" fill="#f6f6f6"/><rect y="6" width="22" height="4" fill="#f6f6f6"/><rect x="7" width="2" height="16" fill="#202c6c"/><rect y="7" width="22" height="2" fill="#202c6c"/></svg></div>
<div class="lg"><svg width="17" height="17" viewBox="0 0 17 17"><path d="M1 5.5 L15.5 8.5 L1 12.5 Z" fill="#d42a2a"/><path d="M3 7.6 L10 8.7 L3 10.4 Z" fill="#fff"/><path d="M2.5 3.5 L2.5 5.5" stroke="#d42a2a" stroke-width="1"/></svg></div>
<div class="cl">Fredrikstad FK<br>Eliteserien</div>
<div class="yr">2024</div>
<div class="c" style="left:394px;width:124px">27.3</div>
<div class="c" style="left:517.6px;width:124px">CM (CAM)</div>
<div class="c" style="left:641.3px;width:124px">1532<span class="pc">(85%)</span></div>
<div class="v" style="left:765.4px;background:#f1fa89">5.5</div>
<div class="v" style="left:902.9px;background:#ecfa89">5.8</div>
<div class="v" style="left:1040.4px;background:#fad689">3.4</div>
<div class="v" style="left:1177.9px;background:#dafa89">6.8</div>
<div class="v" style="left:1315.4px;background:#cffa89">7.4</div>
<div class="v" style="left:1452.9px;background:#f1fa89">5.5</div>
</div>
</div>
<div class="bvl" style="left:476px"></div>
<div class="bvl" style="left:847.6px"></div>
<div class="bvl" style="left:1122.2px"></div>
<div id="hs" class="abs"></div>
<div id="hst" class="abs"></div>
<div id="vs" class="abs"></div>
<div id="vst" class="abs"></div>
<div class="abs" style="left:1690px;top:886px;width:10px;height:12px;background:radial-gradient(10px 12px at 0 0,transparent 95%,#050505 100%)"></div>
<div class="abs" style="left:0;top:886px;width:12px;height:12px;background:radial-gradient(circle at 12px 0,transparent 11px,#050505 12px)"></div>
</body></html>
